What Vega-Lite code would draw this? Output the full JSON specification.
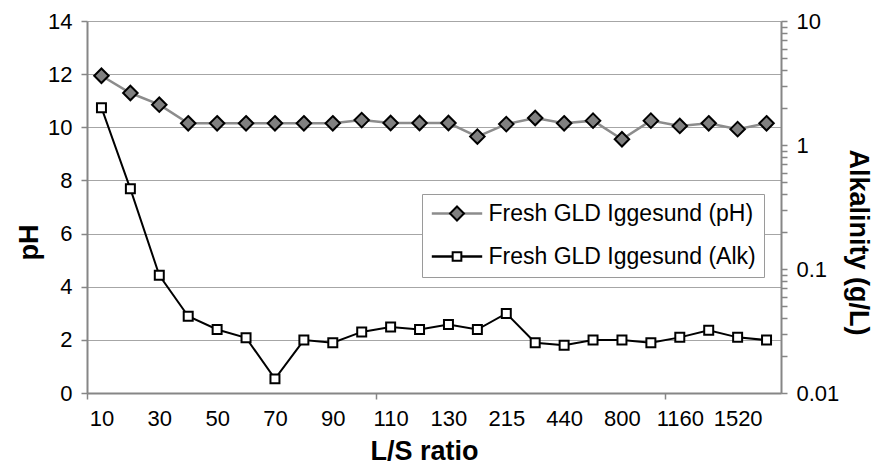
{
  "$schema": "https://vega.github.io/schema/vega-lite/v6.json",
  "width": 694,
  "height": 372,
  "autosize": "none",
  "padding": {"left": 87, "top": 21, "right": 95, "bottom": 78},
  "background": "white",
  "config": {
    "font": "Liberation Sans",
    "view": {"stroke": null},
    "axis": {
      "labelFont": "Liberation Sans",
      "labelFontSize": 22,
      "labelColor": "black",
      "titleFont": "Liberation Sans",
      "titleFontSize": 27,
      "titleFontWeight": "bold",
      "titleColor": "black",
      "domainColor": "#868686",
      "domainWidth": 2,
      "tickColor": "#868686",
      "tickWidth": 1.5,
      "tickSize": 6,
      "gridColor": "#a6a6a6",
      "gridWidth": 1
    }
  },
  "data": {
    "values": [
      {"ls": "10", "pH": 11.94, "alk": 2.0},
      {"ls": "20", "pH": 11.29, "alk": 0.443},
      {"ls": "30", "pH": 10.85, "alk": 0.089},
      {"ls": "40", "pH": 10.15, "alk": 0.0416},
      {"ls": "50", "pH": 10.15, "alk": 0.0325},
      {"ls": "60", "pH": 10.15, "alk": 0.0279},
      {"ls": "70", "pH": 10.15, "alk": 0.013},
      {"ls": "80", "pH": 10.15, "alk": 0.0267},
      {"ls": "90", "pH": 10.15, "alk": 0.0254},
      {"ls": "100", "pH": 10.27, "alk": 0.0311},
      {"ls": "110", "pH": 10.16, "alk": 0.034},
      {"ls": "120", "pH": 10.16, "alk": 0.0325},
      {"ls": "130", "pH": 10.16, "alk": 0.0357},
      {"ls": "170", "pH": 9.65, "alk": 0.0325},
      {"ls": "215", "pH": 10.12, "alk": 0.0438},
      {"ls": "330", "pH": 10.35, "alk": 0.0254},
      {"ls": "440", "pH": 10.15, "alk": 0.0243},
      {"ls": "620", "pH": 10.25, "alk": 0.0267},
      {"ls": "800", "pH": 9.55, "alk": 0.0267},
      {"ls": "980", "pH": 10.25, "alk": 0.0254},
      {"ls": "1160", "pH": 10.05, "alk": 0.0281},
      {"ls": "1340", "pH": 10.15, "alk": 0.0321},
      {"ls": "1520", "pH": 9.93, "alk": 0.0281},
      {"ls": "1700", "pH": 10.15, "alk": 0.0267}
    ]
  },
  "layer": [
    {
      "encoding": {
        "x": {
          "field": "ls",
          "type": "ordinal",
          "sort": null,
          "scale": {"type": "point", "padding": 0.5},
          "axis": {
            "orient": "bottom",
            "values": ["10", "30", "50", "70", "90", "110", "130", "215", "440", "800", "1160", "1520"],
            "ticks": false,
            "tickSize": 0,
            "labelAngle": 0,
            "labelPadding": 15,
            "grid": false,
            "title": "L/S ratio",
            "titleX": 337,
            "titleY": 66,
            "titleBaseline": "alphabetic"
          }
        },
        "y": {
          "field": "pH",
          "type": "quantitative",
          "scale": {"domain": [0, 14], "nice": false},
          "axis": {
            "orient": "left",
            "values": [0, 2, 4, 6, 8, 10, 12, 14],
            "grid": true,
            "labelPadding": 9,
            "title": "pH",
            "titleAngle": -90,
            "titleX": -58,
            "titleY": 221,
            "titleBaseline": "middle"
          }
        }
      },
      "layer": [
        {
          "mark": {"type": "line", "strokeWidth": 2.5},
          "encoding": {
            "color": {
              "datum": "Fresh GLD Iggesund (pH)",
              "scale": {
                "domain": ["Fresh GLD Iggesund (pH)", "Fresh GLD Iggesund (Alk)"],
                "range": ["#8c8c8c", "#000000"]
              },
              "legend": {
                "orient": "none",
                "legendX": 335,
                "legendY": 173,
                "direction": "vertical",
                "columns": 1,
                "title": null,
                "symbolType": "M-3.6,0H3.6",
                "symbolSize": 196,
                "symbolStrokeWidth": 2.5,
                "symbolFillColor": "transparent",
                "symbolOffset": 15.5,
                "labelOffset": 20,
                "labelLimit": 500,
                "labelFont": "Liberation Sans",
                "labelFontSize": 23,
                "labelColor": "black",
                "padding": 8,
                "rowPadding": 19,
                "fillColor": "white",
                "strokeColor": "#9a9a9a",
                "zindex": 1
              }
            }
          }
        },
        {
          "mark": {"type": "point", "filled": true, "opacity": 1, "stroke": "black", "strokeWidth": 2, "size": 210},
          "encoding": {
            "shape": {
              "datum": "pH",
              "scale": {
                "domain": ["pH", "Alk"],
                "range": ["M0,-1L1,0L0,1L-1,0Z", "M-0.62,-0.62H0.62V0.62H-0.62Z"]
              },
              "legend": {
                "orient": "none",
                "legendX": 335,
                "legendY": 173,
                "direction": "vertical",
                "columns": 1,
                "title": null,
                "symbolSize": 196,
                "symbolStrokeWidth": 2,
                "symbolStrokeColor": "black",
                "symbolOpacity": 1,
                "symbolOffset": 15.5,
                "labelOffset": 20,
                "labelExpr": "''",
                "labelFont": "Liberation Sans",
                "labelFontSize": 23,
                "padding": 8,
                "rowPadding": 19,
                "zindex": 2,
                "encode": {"symbols": {"update": {"stroke": {"value": "black"}, "strokeWidth": {"value": 2}}}}
              }
            },
            "fill": {
              "datum": "pH",
              "scale": {"domain": ["pH", "Alk"], "range": ["#808080", "#ffffff"]},
              "legend": {
                "orient": "none",
                "legendX": 335,
                "legendY": 173,
                "direction": "vertical",
                "columns": 1,
                "title": null,
                "symbolSize": 196,
                "symbolStrokeWidth": 2,
                "symbolStrokeColor": "black",
                "symbolOpacity": 1,
                "symbolOffset": 15.5,
                "labelOffset": 20,
                "labelExpr": "''",
                "labelFont": "Liberation Sans",
                "labelFontSize": 23,
                "padding": 8,
                "rowPadding": 19,
                "zindex": 2,
                "encode": {"symbols": {"update": {"stroke": {"value": "black"}, "strokeWidth": {"value": 2}}}}
              }
            }
          }
        }
      ]
    },
    {
      "encoding": {
        "x": {
          "field": "ls",
          "type": "ordinal",
          "sort": null,
          "scale": {"type": "point", "padding": 0.5},
          "axis": {
            "orient": "bottom",
            "values": ["10", "110", "1160"],
            "tickOffset": -14.458,
            "labels": false,
            "domain": false,
            "grid": false,
            "ticks": true,
            "tickSize": 6,
            "title": null
          }
        },
        "y": {
          "field": "alk",
          "type": "quantitative",
          "scale": {"type": "log", "domain": [0.01, 10], "nice": false},
          "axis": {
            "orient": "right",
            "values": [0.01, 0.02, 0.03, 0.04, 0.05, 0.06, 0.07, 0.08, 0.09, 0.1, 0.2, 0.3, 0.4, 0.5, 0.6, 0.7, 0.8, 0.9, 1, 2, 3, 4, 5, 6, 7, 8, 9, 10],
            "labelExpr": "datum.value == 0.01 ? '0.01' : datum.value == 0.1 ? '0.1' : datum.value == 1 ? '1' : datum.value == 10 ? '10' : ''",
            "labelOverlap": false,
            "labelPadding": 9,
            "grid": false,
            "title": "Alkalinity (g/L)",
            "titleAngle": 90,
            "titleX": 76,
            "titleY": 221,
            "titleBaseline": "middle"
          }
        }
      },
      "layer": [
        {
          "mark": {"type": "line", "strokeWidth": 2},
          "encoding": {
            "color": {"datum": "Fresh GLD Iggesund (Alk)"}
          }
        },
        {
          "mark": {"type": "point", "filled": true, "opacity": 1, "stroke": "black", "strokeWidth": 2, "size": 210},
          "encoding": {
            "shape": {"datum": "Alk"},
            "fill": {"datum": "Alk"}
          }
        }
      ]
    }
  ],
  "resolve": {
    "scale": {"y": "independent"},
    "axis": {"x": "independent", "y": "independent"}
  }
}
